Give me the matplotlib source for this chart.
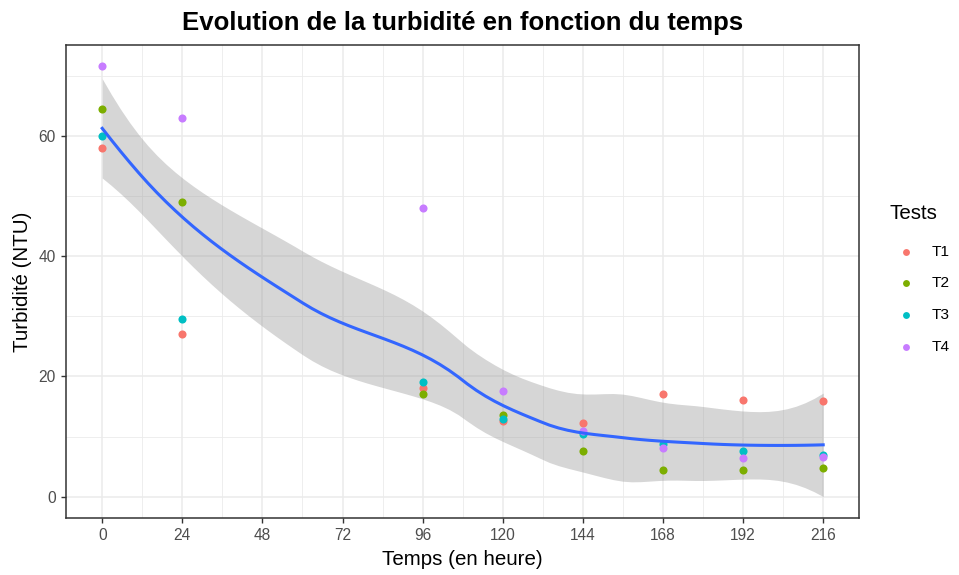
import math
import numpy as np
import matplotlib
matplotlib.use("Agg")
import matplotlib.pyplot as plt

plt.rcParams['font.family'] = ['Liberation Sans', 'DejaVu Sans']

temps = [0, 24, 96, 120, 144, 168, 192, 216]
tests = ["T1", "T2", "T3", "T4"]
t1 = [58.0, 27.0, 18.0, 12.6, 12.3, 17.1, 16.1, 15.9]
t2 = [64.5, 49.0, 17.1, 13.6, 7.6, 4.5, 4.5, 4.8]
t3 = [60.0, 29.6, 19.0, 13.0, 10.5, 8.8, 7.6, 7.0]
t4 = [71.6, 63.0, 48.1, 17.6, 11.0, 8.1, 6.4, 6.6]
couleurs = ["#F8766D", "#7CAE00", "#00BFC4", "#C77CFF"]


def loess_local(x, xv, span=0.75):
    # regression locale quadratique, poids tricube -> lignes (valeur, pente)
    n = len(x)
    q = int(math.floor(span * n))
    d = np.abs(x - xv)
    h = np.sort(d)[q - 1]
    w = np.clip(1 - (d / h) ** 3, 0, None) ** 3
    X = np.column_stack([np.ones(n), x - xv, (x - xv) ** 2])
    W = np.diag(w)
    A = np.linalg.pinv(X.T @ W @ X) @ X.T @ W
    return A[0], A[1]


def kd_vertices(x, fc):
    # decoupage en cellules comme loess (surface = "interpolate")
    xs = np.sort(x)
    mu = 0.005 * (xs[-1] - xs[0])
    verts = {xs[0] - mu, xs[-1] + mu}

    def split(pts):
        if len(pts) <= fc:
            return
        m = (len(pts) + 1) // 2 - 1
        v = (pts[m] + pts[m + 1]) / 2
        if v <= pts[0] or v >= pts[-1]:
            return
        verts.add(v)
        split(pts[pts < v])
        split(pts[pts > v])

    split(xs)
    return np.array(sorted(verts))


def loess_operator(x, x0, span=0.75):
    n = len(x)
    fc = int(math.floor(n * span * 0.2))
    vs = kd_vertices(x, fc)
    vals, slopes = zip(*[loess_local(x, v, span) for v in vs])
    vals, slopes = np.array(vals), np.array(slopes)
    L = np.zeros((len(x0), n))
    for k, xv in enumerate(x0):
        j = min(max(np.searchsorted(vs, xv) - 1, 0), len(vs) - 2)
        hh = vs[j + 1] - vs[j]
        t = (xv - vs[j]) / hh
        h00 = 2 * t**3 - 3 * t**2 + 1
        h10 = t**3 - 2 * t**2 + t
        h01 = -2 * t**3 + 3 * t**2
        h11 = t**3 - t**2
        L[k] = h00 * vals[j] + h10 * hh * slopes[j] + h01 * vals[j + 1] + h11 * hh * slopes[j + 1]
    return L


def t_quantile(p, nu):
    g = math.gamma((nu + 1) / 2) / (math.sqrt(nu * math.pi) * math.gamma(nu / 2))
    tt = np.linspace(0, 10, 20001)
    pdf = g * (1 + tt ** 2 / nu) ** (-(nu + 1) / 2)
    cdf = 0.5 + np.concatenate([[0], np.cumsum((pdf[1:] + pdf[:-1]) / 2 * np.diff(tt))])
    return np.interp(p, cdf, tt)


x = np.array(temps * 4, dtype=float)
y = np.array(t1 + t2 + t3 + t4)
n = len(x)
Lfit = loess_operator(x, x)
res = y - Lfit @ y
M = (np.eye(n) - Lfit).T @ (np.eye(n) - Lfit)
one_delta = np.trace(M)
two_delta = np.trace(M @ M)
s = math.sqrt(np.sum(res ** 2) / one_delta)
df = one_delta ** 2 / two_delta
tq = t_quantile(0.975, df)

xg = np.linspace(min(temps), max(temps), 80)
Lg = loess_operator(x, xg)
fit = Lg @ y
se = s * np.sqrt(np.sum(Lg ** 2, axis=1))
low = fit - tq * se
high = fit + tq * se

fig = plt.figure(figsize=(9.59, 5.75), dpi=100)
ax = fig.add_axes([0.069, 0.099, 0.827, 0.823])

ax.fill_between(xg, low, high, color="#999999", alpha=0.4, lw=0, zorder=2)
for serie, nom, c in zip([t1, t2, t3, t4], tests, couleurs):
    ax.scatter(temps, serie, s=34, color=c, label=nom, zorder=3, lw=0)
ax.plot(xg, fit, color="#3366FF", lw=2.2, zorder=4)

ymin = min(low.min(), y.min())
ymax = max(high.max(), y.max())
ax.set_xlim(-0.05 * 216, 216 * 1.05)
ax.set_ylim(ymin - 0.05 * (ymax - ymin), ymax + 0.05 * (ymax - ymin))

ax.set_xticks(range(0, 217, 24))
ax.set_xticks(range(12, 217, 24), minor=True)
ax.set_yticks([0, 20, 40, 60])
ax.set_yticks([10, 30, 50, 70], minor=True)
ax.grid(True, which="major", color="#EBEBEB", lw=1.1, zorder=0)
ax.grid(True, which="minor", color="#EBEBEB", lw=0.6, zorder=0)
ax.set_axisbelow(True)
for sp in ax.spines.values():
    sp.set_color("#333333")
    sp.set_linewidth(1.1)
ax.tick_params(which="major", length=3.5, width=1.0, color="#333333", labelsize=11.2,
               labelcolor="#4D4D4D", pad=4)
ax.tick_params(which="minor", length=0)

ax.set_xlabel("Temps (en heure)", fontsize=14.8, labelpad=5)
ax.set_ylabel("Turbidité (NTU)", fontsize=14.8, labelpad=5)
ax.set_title("Evolution de la turbidité en fonction du temps", fontsize=18.5,
             fontweight="bold", pad=10.5)

leg = ax.legend(title="Tests", loc="upper left", bbox_to_anchor=(0.928, 0.645),
                bbox_transform=fig.transFigure, frameon=False, fontsize=11.1,
                title_fontsize=14.8, markerscale=0.85, labelspacing=1.15,
                handlelength=2.08, handletextpad=0.65, borderpad=0,
                borderaxespad=0, alignment="left")
leg._legend_box.sep = 1.15 * 11.1 + 2.7

fig.savefig("out.png", dpi=100)
